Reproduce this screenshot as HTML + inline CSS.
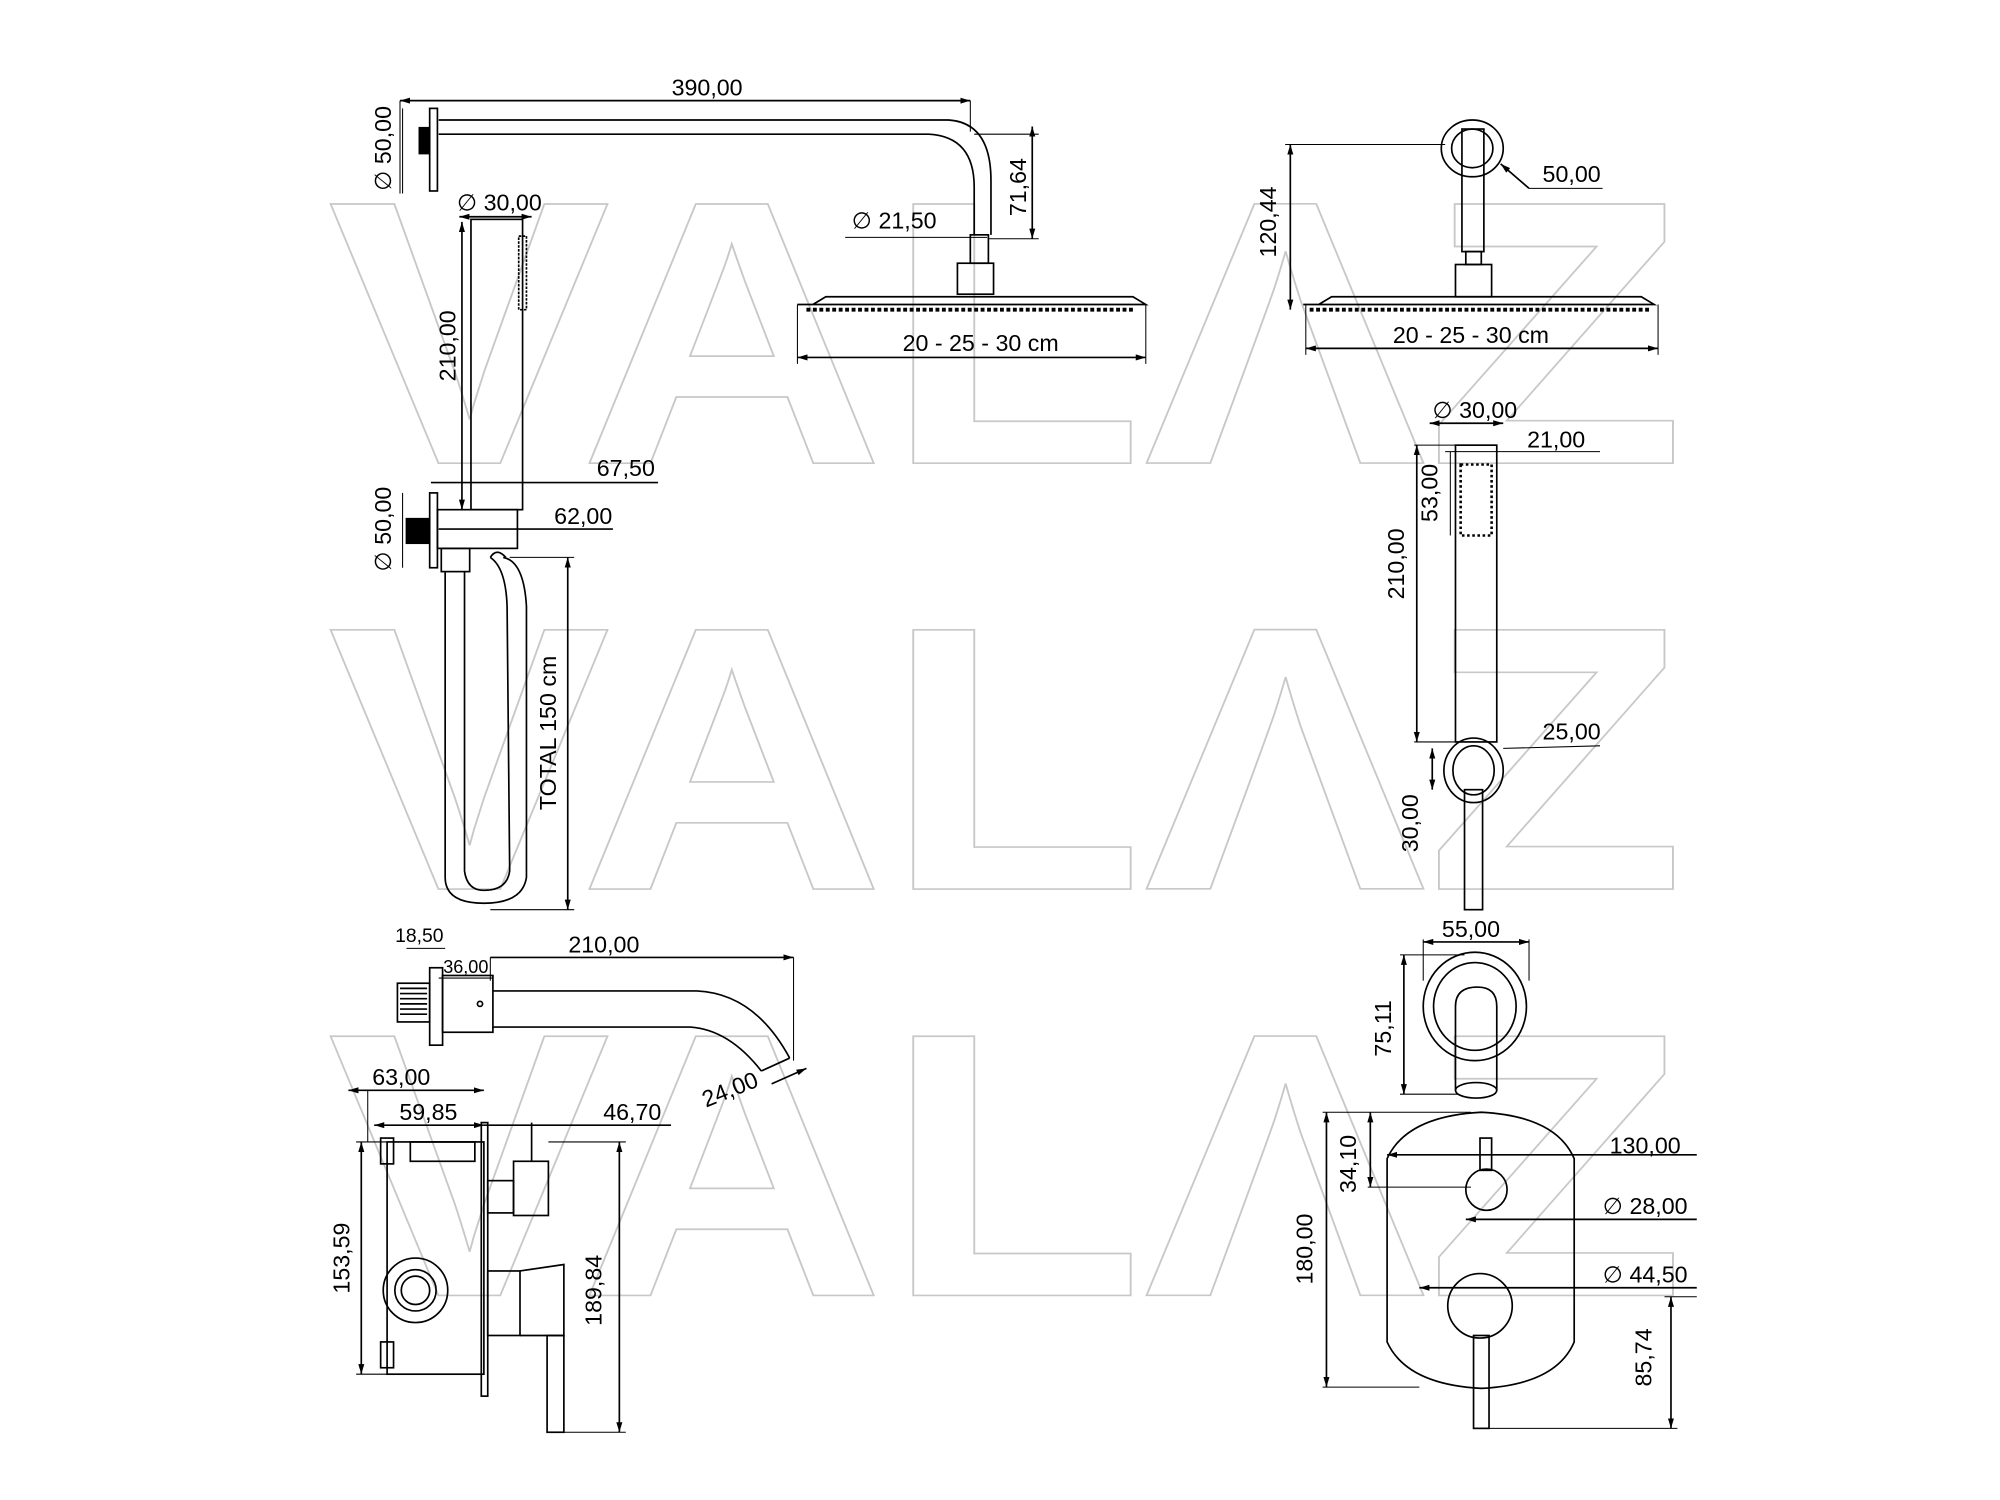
<!DOCTYPE html>
<html><head><meta charset="utf-8"><style>
html,body{margin:0;padding:0;background:#fff;}
svg{display:block;}
</style></head><body>
<svg width="2000" height="1500" viewBox="0 0 1550 1162.5" preserveAspectRatio="none" xmlns="http://www.w3.org/2000/svg">
<defs>
<marker id="ar" viewBox="0 0 10 10" refX="10" refY="5" markerWidth="6" markerHeight="6" orient="auto-start-reverse"><path d="M0,2 L10,5 L0,8 z" fill="#000"/></marker>
</defs>
<rect width="1550" height="1163" fill="#fff"/>
<!-- watermark -->
<g font-family="Liberation Sans, sans-serif" font-weight="bold" font-size="292" fill="#fff" stroke="#c8c8c8" stroke-width="1.3">
<text x="254" y="359" textLength="1052" lengthAdjust="spacingAndGlyphs">VALΛZ</text>
<text x="254" y="689" textLength="1052" lengthAdjust="spacingAndGlyphs">VALΛZ</text>
<text x="254" y="1004" textLength="1052" lengthAdjust="spacingAndGlyphs">VALΛZ</text>
</g>
<g fill="none" stroke="#000" stroke-width="1.3">
<!-- top-left arm -->
<rect x="333" y="84" width="6" height="64"/>
<rect x="325" y="99" width="8" height="20" fill="#000"/>
<path d="M340,93 L735,93 Q768,95 768,140 L768,182"/>
<path d="M340,104 L720,104 Q755,106 755,145 L755,182"/>
<rect x="752" y="182" width="14" height="22"/>
<rect x="742" y="204" width="28" height="24"/>
<path d="M630,236 L640,230 L878,230 L888,236 L618,236 z"/>
<path d="M625,240 L880,240" stroke-dasharray="3,2" stroke-width="3"/>
<line x1="310" y1="78" x2="752" y2="78" marker-start="url(#ar)" marker-end="url(#ar)"/>
<line x1="752" y1="78" x2="752" y2="102" stroke-width="0.8"/>
<line x1="310" y1="78" x2="310" y2="150" stroke-width="0.8"/>
<line x1="800" y1="98" x2="800" y2="185" marker-start="url(#ar)" marker-end="url(#ar)"/>
<line x1="755" y1="104" x2="805" y2="104" stroke-width="0.8"/>
<line x1="766" y1="185" x2="805" y2="185" stroke-width="0.8"/>
<line x1="655" y1="184" x2="765" y2="184" stroke-width="0.8"/>
<line x1="618" y1="277" x2="888" y2="277" marker-start="url(#ar)" marker-end="url(#ar)"/>
<line x1="618" y1="236" x2="618" y2="282" stroke-width="0.8"/>
<line x1="888" y1="236" x2="888" y2="282" stroke-width="0.8"/>
<line x1="312" y1="84" x2="312" y2="150" stroke-width="0.8"/>
<!-- hand shower left -->
<rect x="365" y="170" width="40" height="225"/>
<rect x="402" y="183" width="6" height="57" stroke-dasharray="2,1"/>
<line x1="356" y1="168" x2="412" y2="168" marker-start="url(#ar)" marker-end="url(#ar)"/>
<line x1="358" y1="172" x2="358" y2="395" marker-start="url(#ar)" marker-end="url(#ar)"/>
<line x1="334" y1="374" x2="510" y2="374"/>
<line x1="340" y1="410" x2="475" y2="410"/>
<rect x="333" y="382" width="6" height="58"/>
<rect x="315" y="402" width="18" height="19" fill="#000"/>
<rect x="339" y="395" width="62" height="30"/>
<rect x="342" y="425" width="22" height="18"/>
<path d="M380,432 Q385,424 392,432"/>
<path d="M345,443 L345,680 Q345,700 375,700 Q405,700 408,680 L408,470 Q406,435 390,432"/>
<path d="M360,443 L360,675 Q362,690 375,690 Q393,690 395,675 L393,470 Q392,440 380,432"/>
<line x1="440" y1="432" x2="440" y2="705" marker-start="url(#ar)" marker-end="url(#ar)"/>
<line x1="395" y1="432" x2="445" y2="432" stroke-width="0.8"/>
<line x1="380" y1="705" x2="445" y2="705" stroke-width="0.8"/>
<line x1="312" y1="382" x2="312" y2="440" stroke-width="0.8"/>
<!-- top right -->
<ellipse cx="1141" cy="115" rx="24" ry="22"/>
<ellipse cx="1141" cy="115" rx="16" ry="15"/>
<rect x="1133" y="100" width="17" height="95"/>
<rect x="1136" y="195" width="12" height="10"/>
<rect x="1128" y="205" width="28" height="25"/>
<path d="M1022,236 L1032,230 L1272,230 L1282,236 L1010,236 z"/>
<path d="M1015,240 L1280,240" stroke-dasharray="3,2" stroke-width="3"/>
<line x1="1000" y1="112" x2="1000" y2="240" marker-start="url(#ar)" marker-end="url(#ar)"/>
<line x1="996" y1="112" x2="1120" y2="112" stroke-width="0.8"/>
<line x1="1012" y1="270" x2="1285" y2="270" marker-start="url(#ar)" marker-end="url(#ar)"/>
<line x1="1012" y1="236" x2="1012" y2="275" stroke-width="0.8"/>
<line x1="1285" y1="236" x2="1285" y2="275" stroke-width="0.8"/>
<line x1="1242" y1="146" x2="1185" y2="146" stroke-width="0.8"/>
<line x1="1185" y1="146" x2="1163" y2="127" marker-end="url(#ar)"/>
<!-- right hand shower -->
<rect x="1128" y="345" width="32" height="230"/>
<rect x="1132" y="360" width="24" height="55" stroke-dasharray="2,2" stroke-width="2"/>
<line x1="1108" y1="328" x2="1165" y2="328" marker-start="url(#ar)" marker-end="url(#ar)"/>
<line x1="1120" y1="350" x2="1240" y2="350" stroke-width="0.8"/>
<line x1="1098" y1="345" x2="1098" y2="575" marker-start="url(#ar)" marker-end="url(#ar)"/>
<line x1="1096" y1="345" x2="1128" y2="345" stroke-width="0.8"/>
<line x1="1096" y1="575" x2="1128" y2="575" stroke-width="0.8"/>
<line x1="1124" y1="350" x2="1124" y2="415" stroke-width="0.8"/>
<ellipse cx="1142" cy="597" rx="23" ry="25"/>
<ellipse cx="1142" cy="597" rx="16" ry="19"/>
<rect x="1135" y="612" width="14" height="93"/>
<line x1="1165" y1="580" x2="1240" y2="578" stroke-width="0.8"/>
<line x1="1110" y1="580" x2="1110" y2="612" marker-start="url(#ar)" marker-end="url(#ar)"/>
<!-- bottom left spout -->
<rect x="308" y="762" width="25" height="30"/>
<path d="M310,766 H331 M310,770 H331 M310,774 H331 M310,778 H331 M310,782 H331 M310,786 H331"/>
<rect x="333" y="750" width="10" height="60"/>
<rect x="343" y="756" width="39" height="44"/>
<circle cx="372" cy="778" r="2"/>
<path d="M382,768 L540,768 Q585,770 612,820"/>
<path d="M382,796 L535,796 Q565,798 590,830"/>
<line x1="590" y1="830" x2="612" y2="820"/>
<line x1="380" y1="742" x2="615" y2="742" marker-end="url(#ar)"/>
<line x1="615" y1="742" x2="615" y2="822" stroke-width="0.8"/>
<line x1="315" y1="735" x2="345" y2="735" stroke-width="0.8"/>
<line x1="340" y1="758" x2="382" y2="758" stroke-width="0.8"/>
<line x1="380" y1="742" x2="380" y2="760" stroke-width="0.8"/>
<line x1="598" y1="840" x2="625" y2="828" marker-end="url(#ar)"/>
<!-- mixer side -->
<rect x="300" y="885" width="75" height="180"/>
<rect x="295" y="882" width="10" height="20"/>
<rect x="295" y="1040" width="10" height="20"/>
<rect x="318" y="885" width="50" height="15"/>
<circle cx="322" cy="1000" r="25"/>
<circle cx="322" cy="1000" r="16"/>
<circle cx="322" cy="1000" r="11"/>
<rect x="373" y="870" width="5" height="212"/>
<rect x="378" y="915" width="20" height="25"/>
<rect x="398" y="900" width="27" height="42"/>
<line x1="412" y1="870" x2="412" y2="900"/>
<rect x="378" y="985" width="25" height="50"/>
<path d="M403,985 L437,980 L437,1035 L403,1035"/>
<rect x="424" y="1035" width="13" height="75"/>
<line x1="280" y1="885" x2="280" y2="1065" marker-start="url(#ar)" marker-end="url(#ar)"/>
<line x1="276" y1="885" x2="300" y2="885" stroke-width="0.8"/>
<line x1="276" y1="1065" x2="300" y2="1065" stroke-width="0.8"/>
<line x1="480" y1="885" x2="480" y2="1110" marker-start="url(#ar)" marker-end="url(#ar)"/>
<line x1="425" y1="885" x2="485" y2="885" stroke-width="0.8"/>
<line x1="437" y1="1110" x2="485" y2="1110" stroke-width="0.8"/>
<line x1="270" y1="845" x2="375" y2="845" marker-start="url(#ar)" marker-end="url(#ar)"/>
<line x1="290" y1="872" x2="375" y2="872" marker-start="url(#ar)" marker-end="url(#ar)"/>
<line x1="375" y1="872" x2="520" y2="872"/>
<line x1="285" y1="845" x2="285" y2="885" stroke-width="0.8"/>
<!-- bottom right spout -->
<ellipse cx="1143" cy="780" rx="40" ry="42"/>
<ellipse cx="1143" cy="780" rx="32" ry="34"/>
<path d="M1128,845 L1128,780 Q1128,765 1145,765 Q1160,765 1160,780 L1160,845"/>
<ellipse cx="1144" cy="845" rx="16" ry="6"/>
<line x1="1103" y1="730" x2="1185" y2="730" marker-start="url(#ar)" marker-end="url(#ar)"/>
<line x1="1103" y1="728" x2="1103" y2="760" stroke-width="0.8"/>
<line x1="1185" y1="728" x2="1185" y2="760" stroke-width="0.8"/>
<line x1="1088" y1="740" x2="1088" y2="848" marker-start="url(#ar)" marker-end="url(#ar)"/>
<line x1="1085" y1="740" x2="1135" y2="740" stroke-width="0.8"/>
<line x1="1085" y1="848" x2="1130" y2="848" stroke-width="0.8"/>
<!-- mixer front -->
<path d="M1075,898 Q1090,865 1148,862 Q1206,865 1220,898 L1220,1040 Q1206,1073 1148,1076 Q1090,1073 1075,1040 z"/>
<rect x="1147" y="882" width="9" height="25"/>
<circle cx="1152" cy="922" r="16"/>
<circle cx="1147" cy="1012" r="25"/>
<rect x="1142" y="1035" width="12" height="72"/>
<line x1="1028" y1="862" x2="1028" y2="1075" marker-start="url(#ar)" marker-end="url(#ar)"/>
<line x1="1025" y1="862" x2="1140" y2="862" stroke-width="0.8"/>
<line x1="1025" y1="1075" x2="1100" y2="1075" stroke-width="0.8"/>
<line x1="1062" y1="862" x2="1062" y2="920" marker-start="url(#ar)" marker-end="url(#ar)"/>
<line x1="1060" y1="920" x2="1140" y2="920" stroke-width="0.8"/>
<line x1="1075" y1="895" x2="1315" y2="895" marker-start="url(#ar)"/>
<line x1="1136" y1="945" x2="1315" y2="945" marker-start="url(#ar)"/>
<line x1="1100" y1="998" x2="1315" y2="998" marker-start="url(#ar)"/>
<line x1="1295" y1="1005" x2="1295" y2="1107" marker-start="url(#ar)" marker-end="url(#ar)"/>
<line x1="1150" y1="1107" x2="1300" y2="1107" stroke-width="0.8"/>
<line x1="1290" y1="1005" x2="1315" y2="1005" stroke-width="0.8"/>
</g>
<g font-family="Liberation Sans, sans-serif" font-size="18" fill="#000" text-anchor="middle">
<text x="548" y="74">390,00</text>
<text x="303" y="115" transform="rotate(-90 303 115)">∅ 50,00</text>
<text x="795" y="145" transform="rotate(-90 795 145)">71,64</text>
<text x="693" y="177">∅ 21,50</text>
<text x="760" y="272">20 - 25 - 30 cm</text>
<text x="387" y="163">∅ 30,00</text>
<text x="353" y="268" transform="rotate(-90 353 268)">210,00</text>
<text x="485" y="369">67,50</text>
<text x="452" y="406">62,00</text>
<text x="303" y="410" transform="rotate(-90 303 410)">∅ 50,00</text>
<text x="431" y="568" transform="rotate(-90 431 568)">TOTAL 150 cm</text>
<text x="1218" y="141">50,00</text>
<text x="989" y="172" transform="rotate(-90 989 172)">120,44</text>
<text x="1140" y="266">20 - 25 - 30 cm</text>
<text x="1143" y="324">∅ 30,00</text>
<text x="1206" y="347">21,00</text>
<text x="1114" y="382" transform="rotate(-90 1114 382)">53,00</text>
<text x="1088" y="437" transform="rotate(-90 1088 437)">210,00</text>
<text x="1218" y="573">25,00</text>
<text x="1099" y="638" transform="rotate(-90 1099 638)">30,00</text>
<text x="1140" y="726">55,00</text>
<text x="1078" y="797" transform="rotate(-90 1078 797)">75,11</text>
<text x="325" y="730" font-size="15">18,50</text>
<text x="361" y="754" font-size="14">36,00</text>
<text x="468" y="738">210,00</text>
<text x="568" y="850" transform="rotate(-22 568 850)">24,00</text>
<text x="311" y="841">63,00</text>
<text x="332" y="868">59,85</text>
<text x="490" y="868">46,70</text>
<text x="271" y="975" transform="rotate(-90 271 975)">153,59</text>
<text x="466" y="1000" transform="rotate(-90 466 1000)">189,84</text>
<text x="1275" y="894">130,00</text>
<text x="1051" y="902" transform="rotate(-90 1051 902)">34,10</text>
<text x="1017" y="968" transform="rotate(-90 1017 968)">180,00</text>
<text x="1275" y="941">∅ 28,00</text>
<text x="1275" y="994">∅ 44,50</text>
<text x="1280" y="1052" transform="rotate(-90 1280 1052)">85,74</text>
</g>
</svg>
</body></html>
